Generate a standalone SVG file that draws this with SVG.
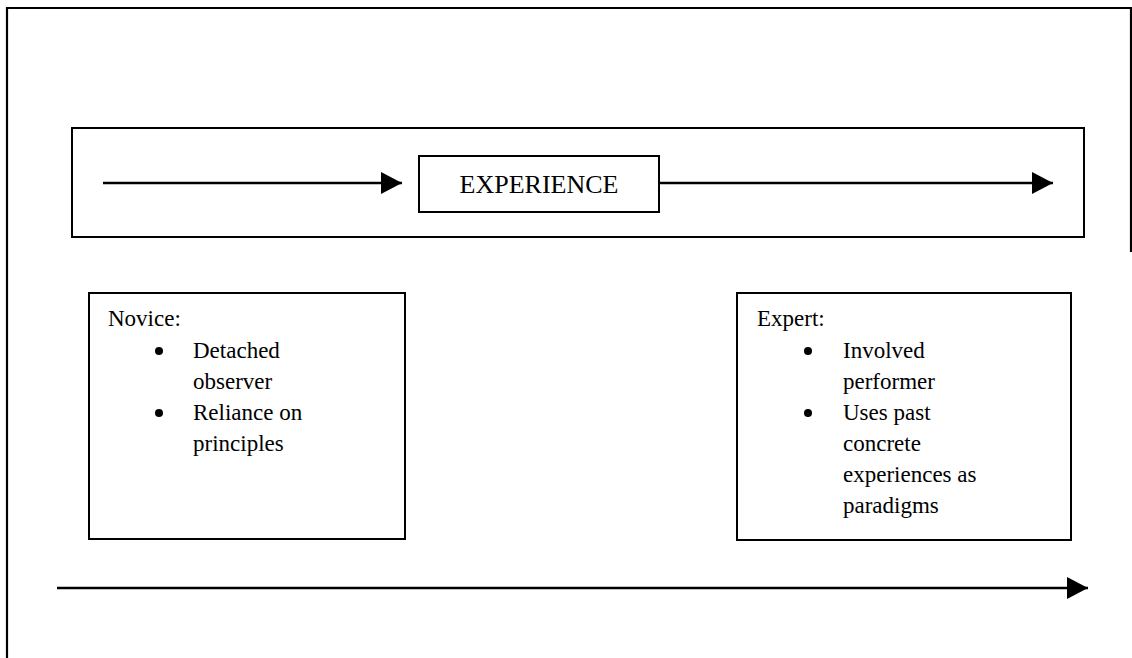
<svg xmlns="http://www.w3.org/2000/svg" width="1132" height="658" viewBox="0 0 1132 658">
  <style>
    .frame { fill: none; stroke: #000; stroke-width: 2.2; }
    .box { fill: #fff; stroke: #000; stroke-width: 2; }
    .line { fill: none; stroke: #000; stroke-width: 2.6; }
    .txt { font-family: "Liberation Serif", "Times New Roman", serif; font-size: 23px; fill: #000; }
    .title { font-family: "Liberation Serif", "Times New Roman", serif; font-size: 26px; fill: #000; }
  </style>
  <defs>
    <marker id="head" markerUnits="userSpaceOnUse" markerWidth="22" markerHeight="22" refX="21" refY="11" orient="auto">
      <path d="M0,0 L21,11 L0,22 Z" fill="#000"/>
    </marker>
  </defs>

  <rect width="1132" height="658" fill="#fff"/>

  <!-- page frame, open at the lower right -->
  <path class="frame" d="M7,658 L7,8 L1131,8 L1131,252"/>

  <!-- band holding the experience axis -->
  <g id="experience-band">
    <rect class="box" x="72" y="128" width="1012" height="109"/>
  </g>

  <g id="experience">
    <rect class="box" x="419" y="156" width="240" height="56" stroke-width="1.6"/>
    <text class="title" x="539" y="193" text-anchor="middle">EXPERIENCE</text>
  </g>

  <g id="novice">
    <rect class="box" x="89" y="293" width="316" height="246"/>
    <text class="txt" x="108" y="326">Novice:</text>
    <circle cx="159" cy="351" r="4"/>
    <text class="txt" x="193" y="358">Detached</text>
    <text class="txt" x="193" y="389">observer</text>
    <circle cx="159" cy="413" r="4"/>
    <text class="txt" x="193" y="420">Reliance on</text>
    <text class="txt" x="193" y="451">principles</text>
  </g>

  <g id="expert">
    <rect class="box" x="737" y="293" width="334" height="247"/>
    <text class="txt" x="757" y="326">Expert:</text>
    <circle cx="808" cy="351" r="4"/>
    <text class="txt" x="843" y="358">Involved</text>
    <text class="txt" x="843" y="389">performer</text>
    <circle cx="808" cy="413" r="4"/>
    <text class="txt" x="843" y="420">Uses past</text>
    <text class="txt" x="843" y="451">concrete</text>
    <text class="txt" x="843" y="482">experiences as</text>
    <text class="txt" x="843" y="513">paradigms</text>
  </g>

  <g id="connectors">
    <line class="line" x1="103" y1="183" x2="402" y2="183" marker-end="url(#head)"/>
    <line class="line" x1="659" y1="183" x2="1053" y2="183" marker-end="url(#head)"/>
    <line class="line" x1="57" y1="588" x2="1088" y2="588" marker-end="url(#head)"/>
  </g>
</svg>
